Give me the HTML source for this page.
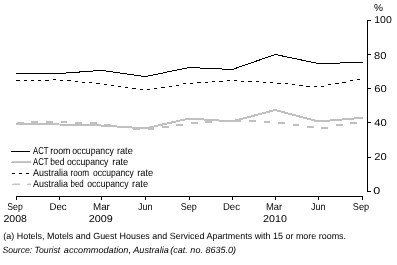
<!DOCTYPE html>
<html><head><meta charset="utf-8"><style>
html,body{margin:0;padding:0;background:#fff;width:397px;height:265px;overflow:hidden}
svg{position:absolute;left:0;top:0;will-change:transform}
text{font-family:"Liberation Sans",sans-serif;font-size:9px;fill:#000;text-rendering:geometricPrecision}
</style></head><body>
<svg width="397" height="265" viewBox="0 0 397 265">
<g shape-rendering="crispEdges">
<polyline points="16.00,124.30 59.25,124.50 101.25,125.50 145.25,128.40 189.25,118.50 232.25,121.40 275.25,110.00 318.25,121.50 363.00,117.70" fill="none" stroke="#c0c0c0" stroke-width="2"/>
<rect x="17" y="122" width="7" height="2" fill="#c0c0c0"/><rect x="31" y="121" width="7" height="2" fill="#c0c0c0"/><rect x="46" y="121" width="7" height="2" fill="#c0c0c0"/><rect x="61" y="121" width="6" height="2" fill="#c0c0c0"/><rect x="75" y="122" width="7" height="2" fill="#c0c0c0"/><rect x="90" y="122" width="7" height="2" fill="#c0c0c0"/><rect x="104" y="124" width="7" height="2" fill="#c0c0c0"/><rect x="119" y="126" width="6" height="2" fill="#c0c0c0"/><rect x="133" y="128" width="7" height="2" fill="#c0c0c0"/><rect x="148" y="128" width="6" height="2" fill="#c0c0c0"/><rect x="162" y="126" width="7" height="2" fill="#c0c0c0"/><rect x="176" y="124" width="7" height="2" fill="#c0c0c0"/><rect x="191" y="122" width="7" height="2" fill="#c0c0c0"/><rect x="205" y="121" width="7" height="2" fill="#c0c0c0"/><rect x="220" y="120" width="7" height="2" fill="#c0c0c0"/><rect x="235" y="120" width="6" height="2" fill="#c0c0c0"/><rect x="249" y="120" width="7" height="2" fill="#c0c0c0"/><rect x="264" y="121" width="6" height="2" fill="#c0c0c0"/><rect x="278" y="122" width="7" height="2" fill="#c0c0c0"/><rect x="293" y="124" width="6" height="2" fill="#c0c0c0"/><rect x="307" y="126" width="7" height="2" fill="#c0c0c0"/><rect x="321" y="127" width="7" height="2" fill="#c0c0c0"/><rect x="336" y="124" width="7" height="2" fill="#c0c0c0"/><rect x="350" y="122" width="7" height="2" fill="#c0c0c0"/>
<rect x="16" y="80" width="4" height="1" fill="#000"/><rect x="24" y="80" width="3" height="1" fill="#000"/><rect x="31" y="80" width="3" height="1" fill="#000"/><rect x="38" y="80" width="3" height="1" fill="#000"/><rect x="45" y="80" width="4" height="1" fill="#000"/><rect x="53" y="79" width="3" height="1" fill="#000"/><rect x="60" y="80" width="3" height="1" fill="#000"/><rect x="67" y="80" width="4" height="1" fill="#000"/><rect x="75" y="81" width="3" height="1" fill="#000"/><rect x="82" y="82" width="3" height="1" fill="#000"/><rect x="89" y="82" width="3" height="1" fill="#000"/><rect x="96" y="83" width="4" height="1" fill="#000"/><rect x="104" y="84" width="3" height="1" fill="#000"/><rect x="111" y="85" width="3" height="1" fill="#000"/><rect x="118" y="86" width="3" height="1" fill="#000"/><rect x="125" y="87" width="3" height="1" fill="#000"/><rect x="132" y="88" width="4" height="1" fill="#000"/><rect x="140" y="89" width="3" height="1" fill="#000"/><rect x="147" y="89" width="3" height="1" fill="#000"/><rect x="154" y="88" width="3" height="1" fill="#000"/><rect x="161" y="87" width="4" height="1" fill="#000"/><rect x="169" y="86" width="3" height="1" fill="#000"/><rect x="176" y="85" width="3" height="1" fill="#000"/><rect x="183" y="83" width="3" height="1" fill="#000"/><rect x="190" y="83" width="3" height="1" fill="#000"/><rect x="197" y="82" width="4" height="1" fill="#000"/><rect x="205" y="82" width="3" height="1" fill="#000"/><rect x="212" y="81" width="3" height="1" fill="#000"/><rect x="219" y="81" width="4" height="1" fill="#000"/><rect x="227" y="80" width="3" height="1" fill="#000"/><rect x="234" y="80" width="3" height="1" fill="#000"/><rect x="241" y="81" width="3" height="1" fill="#000"/><rect x="248" y="81" width="4" height="1" fill="#000"/><rect x="256" y="81" width="3" height="1" fill="#000"/><rect x="263" y="82" width="3" height="1" fill="#000"/><rect x="270" y="82" width="3" height="1" fill="#000"/><rect x="277" y="83" width="4" height="1" fill="#000"/><rect x="285" y="83" width="3" height="1" fill="#000"/><rect x="292" y="84" width="3" height="1" fill="#000"/><rect x="299" y="85" width="4" height="1" fill="#000"/><rect x="306" y="86" width="4" height="1" fill="#000"/><rect x="314" y="86" width="3" height="1" fill="#000"/><rect x="321" y="86" width="3" height="1" fill="#000"/><rect x="328" y="84" width="3" height="1" fill="#000"/><rect x="335" y="83" width="4" height="1" fill="#000"/><rect x="342" y="82" width="4" height="1" fill="#000"/><rect x="350" y="80" width="3" height="1" fill="#000"/><rect x="357" y="79" width="3" height="1" fill="#000"/>
<polyline points="16.25,73.50 59.25,73.50 101.25,70.40 145.25,76.60 189.25,67.50 232.25,69.50 275.25,54.50 318.25,63.50 362.25,62.50" fill="none" stroke="#000" stroke-width="1" stroke-linecap="square"/>
<rect x="367" y="20" width="1" height="172" fill="#000"/>
<rect x="367" y="20" width="4" height="1" fill="#000"/>
<rect x="367" y="54" width="4" height="1" fill="#000"/>
<rect x="367" y="88" width="4" height="1" fill="#000"/>
<rect x="367" y="122" width="4" height="1" fill="#000"/>
<rect x="367" y="157" width="4" height="1" fill="#000"/>
<rect x="367" y="191" width="4" height="1" fill="#000"/>
<rect x="16" y="196" width="347" height="1" fill="#000"/>
<rect x="16" y="196" width="1" height="4" fill="#000"/>
<rect x="59" y="196" width="1" height="4" fill="#000"/>
<rect x="101" y="196" width="1" height="4" fill="#000"/>
<rect x="145" y="196" width="1" height="4" fill="#000"/>
<rect x="189" y="196" width="1" height="4" fill="#000"/>
<rect x="232" y="196" width="1" height="4" fill="#000"/>
<rect x="275" y="196" width="1" height="4" fill="#000"/>
<rect x="318" y="196" width="1" height="4" fill="#000"/>
<rect x="362" y="196" width="1" height="4" fill="#000"/>
<rect x="11" y="151" width="19" height="1" fill="#000"/>
<rect x="12" y="161" width="19" height="1" fill="#cacaca"/><rect x="11" y="162" width="20" height="1" fill="#bebebe"/>
<path d="M12,173.5 H30" stroke="#000" stroke-width="1" stroke-dasharray="3,4"/>
<rect x="13" y="183" width="7" height="1" fill="#e2e2e2"/><rect x="12" y="184" width="8" height="1" fill="#c4c4c4"/>
<rect x="28" y="183" width="3" height="1" fill="#e2e2e2"/><rect x="27" y="184" width="4" height="1" fill="#c4c4c4"/>
</g>
<text x="373.9" y="10.7" style="font-size:10px" textLength="9.0" lengthAdjust="spacingAndGlyphs">%</text>
<text x="374.3" y="22.9" style="font-size:10px" textLength="17.47" lengthAdjust="spacingAndGlyphs">100</text>
<text x="374.1" y="58.6" style="font-size:10px" textLength="12.41" lengthAdjust="spacingAndGlyphs">80</text>
<text x="374.2" y="91.6" style="font-size:10px" textLength="12.49" lengthAdjust="spacingAndGlyphs">60</text>
<text x="374.2" y="126.2" style="font-size:10px" textLength="12.49" lengthAdjust="spacingAndGlyphs">40</text>
<text x="374.2" y="160.1" style="font-size:10px" textLength="12.41" lengthAdjust="spacingAndGlyphs">20</text>
<text x="373.3" y="193.8" style="font-size:10px" textLength="6.97" lengthAdjust="spacingAndGlyphs">0</text>
<text x="33.0" y="154.2" style="font-size:10px" textLength="15.47" lengthAdjust="spacingAndGlyphs">ACT</text>
<text x="50.3" y="154.2" style="font-size:10px" textLength="20.22" lengthAdjust="spacingAndGlyphs">room</text>
<text x="72.2" y="154.2" style="font-size:10px" textLength="41.76" lengthAdjust="spacingAndGlyphs">occupancy</text>
<text x="116.9" y="154.2" style="font-size:10px" textLength="15.9" lengthAdjust="spacingAndGlyphs">rate</text>
<text x="33.0" y="165.0" style="font-size:10px" textLength="15.47" lengthAdjust="spacingAndGlyphs">ACT</text>
<text x="50.3" y="165.0" style="font-size:10px" textLength="14.06" lengthAdjust="spacingAndGlyphs">bed</text>
<text x="67.0" y="165.0" style="font-size:10px" textLength="41.45" lengthAdjust="spacingAndGlyphs">occupancy</text>
<text x="112.3" y="165.0" style="font-size:10px" textLength="15.97" lengthAdjust="spacingAndGlyphs">rate</text>
<text x="33.0" y="176.2" style="font-size:10px" textLength="34.94" lengthAdjust="spacingAndGlyphs">Australia</text>
<text x="70.5" y="176.2" style="font-size:10px" textLength="18.65" lengthAdjust="spacingAndGlyphs">room</text>
<text x="93.0" y="176.2" style="font-size:10px" textLength="40.86" lengthAdjust="spacingAndGlyphs">occupancy</text>
<text x="137.2" y="176.2" style="font-size:10px" textLength="16.05" lengthAdjust="spacingAndGlyphs">rate</text>
<text x="33.0" y="187.0" style="font-size:10px" textLength="34.94" lengthAdjust="spacingAndGlyphs">Australia</text>
<text x="70.5" y="187.0" style="font-size:10px" textLength="13.26" lengthAdjust="spacingAndGlyphs">bed</text>
<text x="87.2" y="187.0" style="font-size:10px" textLength="41.32" lengthAdjust="spacingAndGlyphs">occupancy</text>
<text x="132.1" y="187.0" style="font-size:10px" textLength="15.99" lengthAdjust="spacingAndGlyphs">rate</text>
<text x="7.3" y="210.3" style="font-size:10px" textLength="15.46" lengthAdjust="spacingAndGlyphs">Sep</text>
<text x="49.5" y="210.3" style="font-size:10px" textLength="17.08" lengthAdjust="spacingAndGlyphs">Dec</text>
<text x="93.0" y="210.3" style="font-size:10px" textLength="16.85" lengthAdjust="spacingAndGlyphs">Mar</text>
<text x="138.0" y="210.3" style="font-size:10px" textLength="14.34" lengthAdjust="spacingAndGlyphs">Jun</text>
<text x="180.8" y="210.3" style="font-size:10px" textLength="15.97" lengthAdjust="spacingAndGlyphs">Sep</text>
<text x="223.0" y="210.3" style="font-size:10px" textLength="16.94" lengthAdjust="spacingAndGlyphs">Dec</text>
<text x="266.0" y="210.3" style="font-size:10px" textLength="16.21" lengthAdjust="spacingAndGlyphs">Mar</text>
<text x="311.0" y="210.3" style="font-size:10px" textLength="14.34" lengthAdjust="spacingAndGlyphs">Jun</text>
<text x="352.8" y="210.3" style="font-size:10px" textLength="16.37" lengthAdjust="spacingAndGlyphs">Sep</text>
<text x="3.4" y="221.9" style="font-size:10px" textLength="23.55" lengthAdjust="spacingAndGlyphs">2008</text>
<text x="88.8" y="221.9" style="font-size:10px" textLength="24.03" lengthAdjust="spacingAndGlyphs">2009</text>
<text x="263.0" y="221.9" style="font-size:10px" textLength="23.89" lengthAdjust="spacingAndGlyphs">2010</text>
<text x="3.3" y="239" style="font-size:9px" textLength="342.75" lengthAdjust="spacingAndGlyphs">(a) Hotels, Motels and Guest Houses and Serviced Apartments with 15 or more rooms.</text>
<text x="2.4" y="253" style="font-size:9px;font-style:italic" textLength="57.81" lengthAdjust="spacingAndGlyphs">Source: Tourist</text>
<text x="63.8" y="253" style="font-size:9px;font-style:italic" textLength="105.05" lengthAdjust="spacingAndGlyphs">accommodation, Australia</text>
<text x="170.3" y="253" style="font-size:9px;font-style:italic" textLength="65.76" lengthAdjust="spacingAndGlyphs">(cat. no. 8635.0)</text>
</svg>
</body></html>
